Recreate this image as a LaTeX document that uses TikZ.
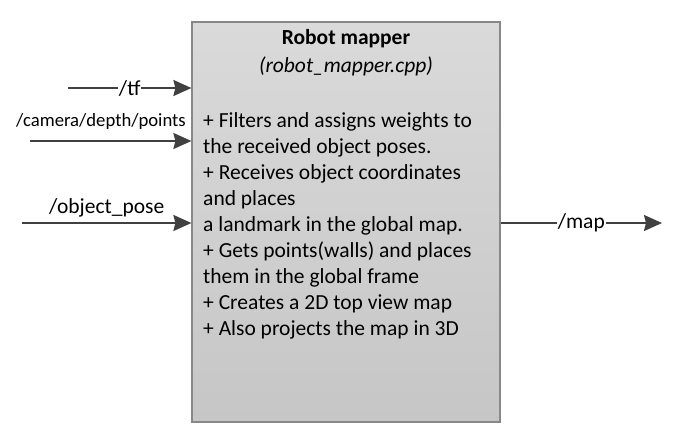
\documentclass[tikz,border=0pt]{standalone}
\usepackage{fontspec}
\setmainfont{Carlito}
\usetikzlibrary{arrows.meta}

\definecolor{arrowgray}{HTML}{404040}
\definecolor{boxborder}{HTML}{888888}
\definecolor{boxtop}{HTML}{DADADA}
\definecolor{boxbottom}{HTML}{C6C6C6}

\begin{document}
\begin{tikzpicture}[x=1pt,y=-1pt,
        every node/.style={font=\fontsize{21.5}{26}\selectfont, text=black},
        flow/.style={draw=arrowgray, line width=2pt,
            -{Stealth[length=18pt,width=16pt,inset=2pt]}},
        topic/.style={fill=white, inner xsep=1pt, inner ysep=0pt},
        mapperbox/.style={draw=boxborder, line width=1.2pt,
            top color=boxtop, bottom color=boxbottom,
            minimum width=308pt, minimum height=400pt}]
        \useasboundingbox (0,0) rectangle (680,440);

        % the node
        \node[mapperbox] (mapper) at (346,222) {};
        \node (title) at (346,39) {\bfseries Robot mapper};
        \node (source) at (346,66) {\itshape (robot\_mapper.cpp)};
        \node[anchor=north west, align=left, inner sep=0pt] (duties) at (203,112.5)
            {+ Filters and assigns weights to\\
             the received object poses.\\
             + Receives object coordinates\\
             and places\\
             a landmark in the global map.\\
             + Gets points(walls) and places\\
             them in the global frame\\
             + Creates a 2D top view map\\
             + Also projects the map in 3D};

        % topics
        \coordinate (tfin) at (68,88);
        \coordinate (cloudin) at (30,141);
        \coordinate (posein) at (22,223);
        \coordinate (mapout) at (662,223);
        \node[font=\fontsize{18.7}{22}\selectfont] (cloudlbl) at (101,121.5) {/camera/depth/points};

        \path[flow] (tfin) -- node[topic] {/tf} (mapper.west |- tfin);
        \path[flow] (cloudin) -- (mapper.west |- cloudin);
        \path[flow] (posein) -- node[above, yshift=1pt] {/object\_pose} (mapper.west |- posein);
        \path[flow] (mapper.east |- mapout) -- node[topic] {/map} (mapout);
    \end{tikzpicture}
\end{document}
